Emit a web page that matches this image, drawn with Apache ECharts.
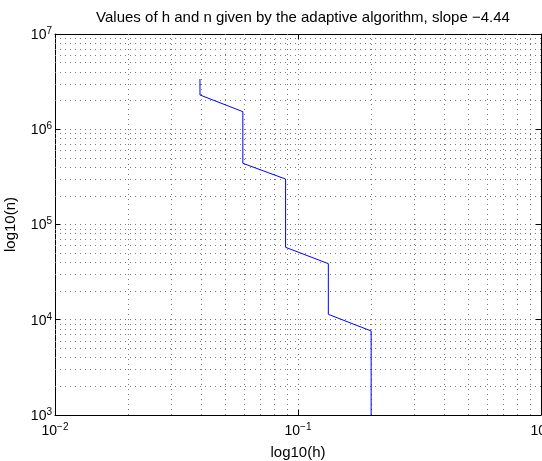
<!DOCTYPE html>
<html>
<head>
<meta charset="utf-8">
<script src="https://cdn.jsdelivr.net/npm/echarts@6/dist/echarts.min.js"></script>
<style>
html,body{margin:0;padding:0;background:#fff;overflow:hidden;}
#chart{width:542px;height:461px;}
</style>
</head>
<body>
<div id="chart"></div>
<script>
// Data (step size h, number of points n)
const hValues = [0.0395, 0.0395, 0.0593, 0.0593, 0.0889, 0.0889, 0.1333, 0.1333, 0.2, 0.2];
const nValues = [3.37e6, 2.29e6, 1.53e6, 4.39e5, 3.0e5, 5.76e4, 3.88e4, 1.14e4, 7.62e3, 1000];
const xDecades = [-2, -1];       // decades with minor grid lines on x
const yDecades = [3, 4, 5, 6];   // decades with minor grid lines on y
const minorMultipliers = [2, 3, 4, 5, 6, 7, 8, 9];
const titleText = 'Values of h and n given by the adaptive algorithm, slope \u22124.44';
const xName = 'log10(h)';
const yName = 'log10(n)';

const FONT = '"Liberation Sans", Arial, Helvetica, sans-serif';
const gridStyle = {color: '#7a7a7a', width: 1, type: [1, 4]};

function expLabel(v) {
  const e = Math.round(Math.log10(v));
  return '{b|10}{s|' + String(e).replace('-', '\u2212') + '}';
}
const richLabel = {
  b: {fontSize: 14, fontFamily: FONT, color: '#000', verticalAlign: 'bottom', lineHeight: 16},
  s: {fontSize: 10, fontFamily: FONT, color: '#000', verticalAlign: 'top', lineHeight: 16, padding: [0, 0, 8, 0]}
};

const lineData = hValues.map((h, i) => [h, nValues[i]]);
const minorLines = [];
xDecades.forEach(d => minorMultipliers.forEach(k => minorLines.push({xAxis: k * Math.pow(10, d)})));
yDecades.forEach(d => minorMultipliers.forEach(k => minorLines.push({yAxis: k * Math.pow(10, d)})));

const chart = echarts.init(document.getElementById('chart'), null, {renderer: 'canvas'});
chart.setOption({
  animation: false,
  backgroundColor: '#fff',
  title: {
    text: titleText,
    left: 298,
    top: 5,
    textAlign: 'center',
    textStyle: {fontSize: 15, fontWeight: 'normal', color: '#000', fontFamily: FONT}
  },
  grid: {left: 55, right: 1, top: 34, bottom: 46, containLabel: false, outerBoundsMode: 'none'},
  xAxis: [{
    type: 'log', logBase: 10, min: 0.01, max: 1, interval: 1,
    name: xName, nameLocation: 'middle', nameGap: 27,
    nameTextStyle: {fontSize: 15, color: '#000', fontFamily: FONT},
    axisLine: {show: true, lineStyle: {color: '#000', width: 1}},
    axisTick: {show: true, inside: true, length: 5, lineStyle: {color: '#000'}},
    axisLabel: {formatter: expLabel, rich: richLabel, margin: 7, showMinLabel: true, showMaxLabel: true, hideOverlap: false},
    splitLine: {show: true, lineStyle: gridStyle},
    minorTick: {show: false}
  }, {
    type: 'log', logBase: 10, min: 0.01, max: 1, interval: 1, position: 'top',
    axisLine: {show: true, lineStyle: {color: '#000', width: 1}},
    axisTick: {show: true, inside: true, length: 5, lineStyle: {color: '#000'}},
    axisLabel: {show: false}, splitLine: {show: false}
  }],
  yAxis: [{
    type: 'log', logBase: 10, min: 1000, max: 1e7, interval: 1,
    name: yName, nameLocation: 'middle', nameGap: 37, nameRotate: 90,
    nameTextStyle: {fontSize: 15, color: '#000', fontFamily: FONT},
    axisLine: {show: true, lineStyle: {color: '#000', width: 1}},
    axisTick: {show: true, inside: true, length: 5, lineStyle: {color: '#000'}},
    axisLabel: {formatter: expLabel, rich: richLabel, margin: 3, showMinLabel: true, showMaxLabel: true},
    splitLine: {show: true, lineStyle: gridStyle}
  }, {
    type: 'log', logBase: 10, min: 1000, max: 1e7, interval: 1, position: 'right',
    axisLine: {show: true, lineStyle: {color: '#000', width: 1}},
    axisTick: {show: true, inside: true, length: 5, lineStyle: {color: '#000'}},
    axisLabel: {show: false}, splitLine: {show: false}
  }],
  series: [{
    type: 'line', data: [], z: 1, silent: true,
    markLine: {
      silent: true, symbol: ['none', 'none'], label: {show: false},
      lineStyle: gridStyle, animation: false, data: minorLines
    }
  }, {
    type: 'line', data: lineData, z: 5, showSymbol: false, symbol: 'none',
    lineStyle: {color: '#0000ff', width: 1}, itemStyle: {color: '#0000ff'}, clip: true
  }]
});
</script>
</body>
</html>
